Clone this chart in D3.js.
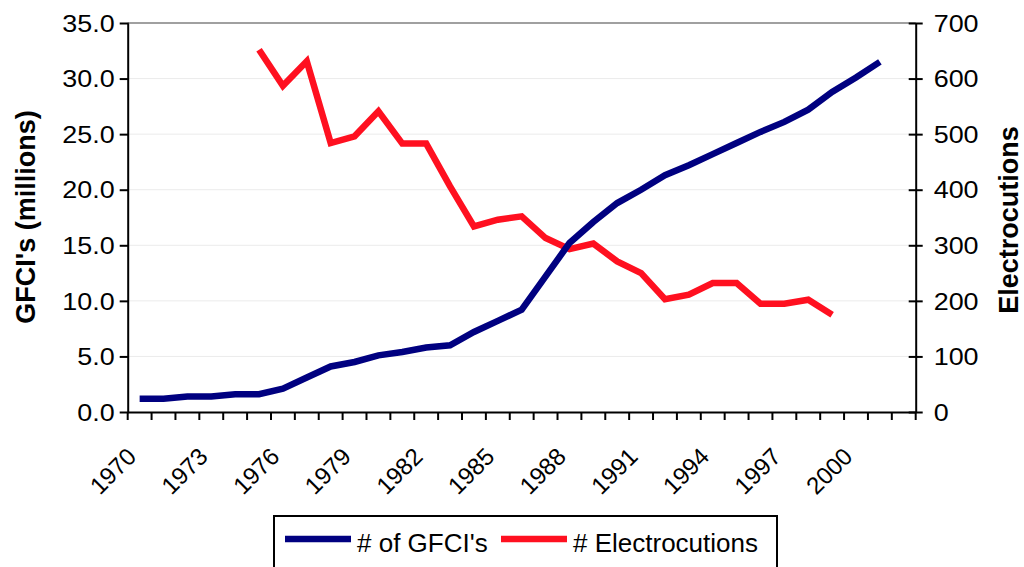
<!DOCTYPE html>
<html>
<head>
<meta charset="utf-8">
<script src="https://cdn.jsdelivr.net/npm/d3@7"></script>
<style>
  html, body { margin: 0; padding: 0; background: #fff; }
  svg { display: block; font-family: "Liberation Sans", Arial, sans-serif; }
</style>
</head>
<body>
<div id="chart"></div>
<script>
// categories on the x axis (one band per year, 2002 left empty)
const categories = [1970, 1971, 1972, 1973, 1974, 1975, 1976, 1977, 1978, 1979,
  1980, 1981, 1982, 1983, 1984, 1985, 1986, 1987, 1988, 1989,
  1990, 1991, 1992, 1993, 1994, 1995, 1996, 1997, 1998, 1999,
  2000, 2001, 2002];
const xLabels = [1970, 1973, 1976, 1979, 1982, 1985, 1988, 1991, 1994, 1997, 2000];

// # of GFCI's (millions)
const gfciYears = [1970, 1971, 1972, 1973, 1974, 1975, 1976, 1977, 1978, 1979,
  1980, 1981, 1982, 1983, 1984, 1985, 1986, 1987, 1988, 1989,
  1990, 1991, 1992, 1993, 1994, 1995, 1996, 1997, 1998, 1999,
  2000, 2001];
const gfci = [1.2, 1.2, 1.4, 1.4, 1.6, 1.6, 2.1, 3.1, 4.1, 4.5,
  5.1, 5.4, 5.8, 6.0, 7.2, 8.2, 9.2, 12.2, 15.2, 17.1,
  18.8, 20.0, 21.3, 22.2, 23.2, 24.2, 25.2, 26.1, 27.2, 28.8,
  30.1, 31.5];

// # Electrocutions
const electroYears = [1975, 1976, 1977, 1978, 1979, 1980, 1981, 1982, 1983, 1984,
  1985, 1986, 1987, 1988, 1989, 1990, 1991, 1992, 1993, 1994,
  1995, 1996, 1997, 1998, 1999];
const electrocutions = [652, 587, 631, 484, 496, 541, 483, 483, 406, 334,
  346, 352, 313, 293, 303, 271, 250, 203, 211, 232,
  232, 195, 195, 202, 175];

const leftTicks = [0, 5, 10, 15, 20, 25, 30, 35];
const rightTicks = [0, 100, 200, 300, 400, 500, 600, 700];

const width = 1024, height = 567,
  margin = {left: 127.7, right: 1024 - 915.7, top: 23, bottom: 567 - 412},
  L = margin.left, R = width - margin.right,
  T = margin.top, B = height - margin.bottom,
  blue = '#000080',
  red = '#ff1020',
  stretch = 1.17;

const svg = d3.select('#chart').append('svg')
  .attr('width', width)
  .attr('height', height);

const x = d3.scaleBand().domain(categories).range([L, R]).padding(0),
  bw = x.bandwidth(),
  cx = d => x(d) + bw / 2,
  yL = d3.scaleLinear().domain([0, 35]).range([B, T]),
  yR = d3.scaleLinear().domain([0, 700]).range([B, T]);

// gridlines
svg.append('g')
  .selectAll('line')
  .data(leftTicks.filter(d => d > 0 && d < 35))
  .join('line')
  .attr('x1', L).attr('x2', R)
  .attr('y1', d => yL(d)).attr('y2', d => yL(d))
  .attr('stroke', '#ebebeb')
  .attr('stroke-width', 1);

// top border of plot area
svg.append('line')
  .attr('x1', L).attr('x2', R)
  .attr('y1', T).attr('y2', T)
  .attr('stroke', '#808080')
  .attr('stroke-width', 1.5);

// series lines (red under blue)
const redLine = d3.line()
  .x((d, i) => cx(electroYears[i]))
  .y(d => yR(d));
const blueLine = d3.line()
  .x((d, i) => cx(gfciYears[i]))
  .y(d => yL(d));

svg.append('path')
  .datum(electrocutions)
  .attr('d', redLine)
  .attr('fill', 'none')
  .attr('stroke', red)
  .attr('stroke-width', 6.5)
  .attr('stroke-linejoin', 'miter');

svg.append('path')
  .datum(gfci)
  .attr('d', blueLine)
  .attr('fill', 'none')
  .attr('stroke', blue)
  .attr('stroke-width', 6.5)
  .attr('stroke-linejoin', 'miter');

// x axis, ticks sit on band boundaries
const gx = svg.append('g')
  .attr('transform', 'translate(0,' + B + ')')
  .call(d3.axisBottom(x).tickSize(8).tickSizeOuter(0).tickFormat(''));
gx.selectAll('.tick').attr('transform', d => 'translate(' + x(d) + ',0)');
gx.append('line').attr('x1', R).attr('x2', R).attr('y1', 0).attr('y2', 8)
  .attr('stroke', '#000');
gx.selectAll('line, path').attr('stroke', '#000').attr('stroke-width', 2);

svg.append('g')
  .selectAll('text')
  .data(xLabels)
  .join('text')
  .attr('transform', d => 'translate(' + (cx(d) - 2) + ',' + (B + 46) + ') rotate(-45)')
  .attr('text-anchor', 'end')
  .attr('font-size', 24)
  .attr('fill', '#000')
  .text(d => d);

// left axis
const gl = svg.append('g')
  .attr('transform', 'translate(' + L + ',0)')
  .call(d3.axisLeft(yL).tickValues(leftTicks).tickFormat(d3.format('.1f'))
    .tickSize(8).tickSizeOuter(0));
gl.selectAll('line, path').attr('stroke', '#000').attr('stroke-width', 2);
gl.selectAll('.tick line').attr('x1', 1);
gl.selectAll('.tick text')
  .attr('font-size', 23)
  .attr('font-family', '"Liberation Sans", Arial, sans-serif')
  .attr('fill', '#000')
  .attr('x', -13 / stretch)
  .attr('dy', '0.36em')
  .attr('transform', 'scale(' + stretch + ',1)');

// right axis
const gr = svg.append('g')
  .attr('transform', 'translate(' + R + ',0)')
  .call(d3.axisRight(yR).tickValues(rightTicks).tickSize(7).tickSizeOuter(0));
gr.selectAll('line, path').attr('stroke', '#000').attr('stroke-width', 2);
gr.selectAll('.tick line').attr('x1', -7);
gr.selectAll('.tick text')
  .attr('font-size', 23)
  .attr('font-family', '"Liberation Sans", Arial, sans-serif')
  .attr('fill', '#000')
  .attr('x', 18 / stretch)
  .attr('dy', '0.36em')
  .attr('transform', 'scale(' + stretch + ',1)');

// axis titles
svg.append('text')
  .attr('transform', 'translate(35,217) rotate(-90)')
  .attr('text-anchor', 'middle')
  .attr('font-size', 27)
  .attr('font-weight', 'bold')
  .text("GFCI's (millions)");

svg.append('text')
  .attr('transform', 'translate(1018,220) rotate(-90)')
  .attr('text-anchor', 'middle')
  .attr('font-size', 27)
  .attr('font-weight', 'bold')
  .text('Electrocutions');

// legend
const legend = svg.append('g');
legend.append('rect')
  .attr('x', 274).attr('y', 516)
  .attr('width', 503).attr('height', 60)
  .attr('fill', '#fff')
  .attr('stroke', '#000')
  .attr('stroke-width', 2);

const legendItems = [
  {label: "# of GFCI's", color: blue, x0: 285},
  {label: '# Electrocutions', color: red, x0: 501}
];
const li = legend.selectAll('g.item')
  .data(legendItems)
  .join('g')
  .attr('class', 'item');
li.append('line')
  .attr('x1', d => d.x0).attr('x2', d => d.x0 + 66)
  .attr('y1', 539).attr('y2', 539)
  .attr('stroke', d => d.color)
  .attr('stroke-width', 6.5);
li.append('text')
  .attr('x', d => d.x0 + 72)
  .attr('y', 551.5)
  .attr('font-size', 26)
  .attr('fill', '#000')
  .text(d => d.label);
</script>
</body>
</html>
